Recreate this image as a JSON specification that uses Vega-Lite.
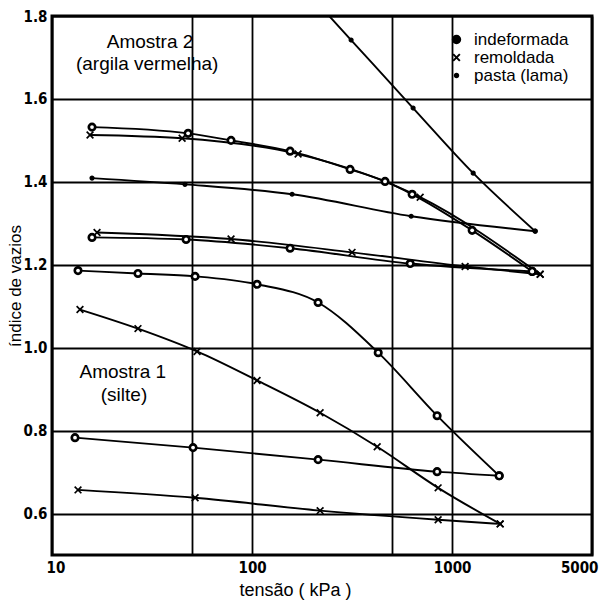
{
  "$schema": "https://vega.github.io/schema/vega-lite/v6.json",
  "width": 540,
  "height": 539,
  "autosize": {"type": "none"},
  "padding": {"left": 52, "top": 16, "right": 14, "bottom": 48},
  "background": "white",
  "config": {
    "view": {"stroke": "black", "strokeWidth": 3},
    "font": "Liberation Sans",
    "axis": {
      "grid": true, "gridColor": "black", "gridWidth": 1.8, "gridOpacity": 1,
      "domain": false, "ticks": false, "tickSize": 0,
      "labelFont": "Liberation Sans Narrow, DejaVu Sans Condensed, Liberation Sans, sans-serif",
      "labelFontWeight": "bold", "labelFontSize": 15, "labelColor": "black",
      "titleColor": "black", "titleFont": "Liberation Sans", "titleFontWeight": "normal"
    },
    "legend": {
      "title": null, "orient": "none", "legendX": 396, "legendY": 15, "padding": 0, "rowPadding": 0,
      "labelFontSize": 17, "labelFont": "Liberation Sans", "labelFontWeight": "normal", "labelColor": "black", "labelOffset": 9,
      "symbolStrokeWidth": 2
    }
  },
  "datasets": {
    "curvas": [
      {"curva": "A2 pasta inclinada", "tipo": "pasta (lama)", "tensao": 218.8, "e": 1.824},
      {"curva": "A2 pasta inclinada", "tipo": "pasta (lama)", "tensao": 312.6, "e": 1.742},
      {"curva": "A2 pasta inclinada", "tipo": "pasta (lama)", "tensao": 638, "e": 1.578},
      {"curva": "A2 pasta inclinada", "tipo": "pasta (lama)", "tensao": 1274, "e": 1.421},
      {"curva": "A2 pasta inclinada", "tipo": "pasta (lama)", "tensao": 2600, "e": 1.281},

      {"curva": "A2 pasta", "tipo": "pasta (lama)", "tensao": 15.85, "e": 1.409},
      {"curva": "A2 pasta", "tipo": "pasta (lama)", "tensao": 46.2, "e": 1.394},
      {"curva": "A2 pasta", "tipo": "pasta (lama)", "tensao": 158.5, "e": 1.370},
      {"curva": "A2 pasta", "tipo": "pasta (lama)", "tensao": 624, "e": 1.317},
      {"curva": "A2 pasta", "tipo": "pasta (lama)", "tensao": 2600, "e": 1.281},

      {"curva": "A2 indeformada 1", "tipo": "indeformada", "tensao": 15.85, "e": 1.532},
      {"curva": "A2 indeformada 1", "tipo": "indeformada", "tensao": 47.9, "e": 1.517},
      {"curva": "A2 indeformada 1", "tipo": "indeformada", "tensao": 78.5, "e": 1.500},
      {"curva": "A2 indeformada 1", "tipo": "indeformada", "tensao": 154.9, "e": 1.474},
      {"curva": "A2 indeformada 1", "tipo": "indeformada", "tensao": 309, "e": 1.430},
      {"curva": "A2 indeformada 1", "tipo": "indeformada", "tensao": 462, "e": 1.401},
      {"curva": "A2 indeformada 1", "tipo": "indeformada", "tensao": 631, "e": 1.370},
      {"curva": "A2 indeformada 1", "tipo": "indeformada", "tensao": 1259, "e": 1.283},
      {"curva": "A2 indeformada 1", "tipo": "indeformada", "tensao": 2512, "e": 1.184},

      {"curva": "A2 remoldada 1", "tipo": "remoldada", "tensao": 15.49, "e": 1.513},
      {"curva": "A2 remoldada 1", "tipo": "remoldada", "tensao": 44.7, "e": 1.505},
      {"curva": "A2 remoldada 1", "tipo": "remoldada", "tensao": 169.8, "e": 1.467},
      {"curva": "A2 remoldada 1", "tipo": "remoldada", "tensao": 692, "e": 1.363},
      {"curva": "A2 remoldada 1", "tipo": "remoldada", "tensao": 2754, "e": 1.177},

      {"curva": "A2 indeformada 2", "tipo": "indeformada", "tensao": 15.85, "e": 1.266},
      {"curva": "A2 indeformada 2", "tipo": "indeformada", "tensao": 46.8, "e": 1.261},
      {"curva": "A2 indeformada 2", "tipo": "indeformada", "tensao": 154.9, "e": 1.240},
      {"curva": "A2 indeformada 2", "tipo": "indeformada", "tensao": 617, "e": 1.203},
      {"curva": "A2 indeformada 2", "tipo": "indeformada", "tensao": 2512, "e": 1.184},

      {"curva": "A2 remoldada 2", "tipo": "remoldada", "tensao": 16.79, "e": 1.278},
      {"curva": "A2 remoldada 2", "tipo": "remoldada", "tensao": 78.5, "e": 1.262},
      {"curva": "A2 remoldada 2", "tipo": "remoldada", "tensao": 316, "e": 1.230},
      {"curva": "A2 remoldada 2", "tipo": "remoldada", "tensao": 1161, "e": 1.196},
      {"curva": "A2 remoldada 2", "tipo": "remoldada", "tensao": 2754, "e": 1.177},

      {"curva": "A1 indeformada 1", "tipo": "indeformada", "tensao": 13.49, "e": 1.186},
      {"curva": "A1 indeformada 1", "tipo": "indeformada", "tensao": 26.9, "e": 1.179},
      {"curva": "A1 indeformada 1", "tipo": "indeformada", "tensao": 51.9, "e": 1.172},
      {"curva": "A1 indeformada 1", "tipo": "indeformada", "tensao": 105.9, "e": 1.153},
      {"curva": "A1 indeformada 1", "tipo": "indeformada", "tensao": 213.8, "e": 1.109},
      {"curva": "A1 indeformada 1", "tipo": "indeformada", "tensao": 427, "e": 0.988},
      {"curva": "A1 indeformada 1", "tipo": "indeformada", "tensao": 841, "e": 0.836},
      {"curva": "A1 indeformada 1", "tipo": "indeformada", "tensao": 1718, "e": 0.691},

      {"curva": "A1 remoldada 1", "tipo": "remoldada", "tensao": 13.8, "e": 1.092},
      {"curva": "A1 remoldada 1", "tipo": "remoldada", "tensao": 26.9, "e": 1.046},
      {"curva": "A1 remoldada 1", "tipo": "remoldada", "tensao": 53.1, "e": 0.991},
      {"curva": "A1 remoldada 1", "tipo": "remoldada", "tensao": 105.9, "e": 0.921},
      {"curva": "A1 remoldada 1", "tipo": "remoldada", "tensao": 218.8, "e": 0.843},
      {"curva": "A1 remoldada 1", "tipo": "remoldada", "tensao": 422, "e": 0.761},
      {"curva": "A1 remoldada 1", "tipo": "remoldada", "tensao": 851, "e": 0.662},
      {"curva": "A1 remoldada 1", "tipo": "remoldada", "tensao": 1738, "e": 0.575},

      {"curva": "A1 indeformada 2", "tipo": "indeformada", "tensao": 13.03, "e": 0.783},
      {"curva": "A1 indeformada 2", "tipo": "indeformada", "tensao": 50.7, "e": 0.759},
      {"curva": "A1 indeformada 2", "tipo": "indeformada", "tensao": 213.8, "e": 0.730},
      {"curva": "A1 indeformada 2", "tipo": "indeformada", "tensao": 841, "e": 0.701},
      {"curva": "A1 indeformada 2", "tipo": "indeformada", "tensao": 1718, "e": 0.691},

      {"curva": "A1 remoldada 2", "tipo": "remoldada", "tensao": 13.49, "e": 0.657},
      {"curva": "A1 remoldada 2", "tipo": "remoldada", "tensao": 51.9, "e": 0.638},
      {"curva": "A1 remoldada 2", "tipo": "remoldada", "tensao": 218.8, "e": 0.607},
      {"curva": "A1 remoldada 2", "tipo": "remoldada", "tensao": 851, "e": 0.585},
      {"curva": "A1 remoldada 2", "tipo": "remoldada", "tensao": 1738, "e": 0.575}
    ],
    "rotulos": [
      {"texto": "Amostra 2", "tensao": 30.9, "e": 1.737},
      {"texto": "(argila vermelha)", "tensao": 29.9, "e": 1.684},
      {"texto": "Amostra 1", "tensao": 22.6, "e": 0.942},
      {"texto": "(silte)", "tensao": 22.9, "e": 0.885}
    ]
  },
  "encoding": {
    "x": {
      "field": "tensao", "type": "quantitative",
      "scale": {"type": "log", "domain": [10, 5000], "nice": false},
      "axis": {
        "values": [10, 50, 100, 500, 1000, 5000],
        "format": "d",
        "labelExpr": "datum.value == 50 || datum.value == 500 ? '' : datum.label",
        "labelFlush": true, "labelFlushOffset": 6, "labelOverlap": false, "labelPadding": 5,
        "title": "tensão ( kPa )", "titleFontSize": 18, "titleX": 243, "titlePadding": 6
      }
    },
    "y": {
      "field": "e", "type": "quantitative",
      "scale": {"domain": [0.5, 1.8], "nice": false, "zero": false},
      "axis": {
        "values": [0.6, 0.8, 1.0, 1.2, 1.4, 1.6, 1.8],
        "format": ".1f", "labelPadding": 5, "labelOverlap": false,
        "title": "índice de vazios", "titleFontSize": 17, "titlePadding": -1
      }
    }
  },
  "layer": [
    {
      "data": {"name": "curvas"},
      "mark": {"type": "line", "color": "black", "strokeWidth": 1.9, "interpolate": "monotone", "clip": true},
      "encoding": {"detail": {"field": "curva"}}
    },
    {
      "data": {"name": "curvas"},
      "mark": {"type": "point", "filled": true, "strokeWidth": 1.7, "opacity": 1, "clip": true},
      "encoding": {
        "shape": {
          "field": "tipo", "type": "nominal",
          "scale": {"domain": ["indeformada", "remoldada", "pasta (lama)"], "range": ["circle", "M-1,-1L1,1M-1,1L1,-1", "circle"]}
        },
        "size": {
          "field": "tipo", "type": "nominal",
          "scale": {"type": "ordinal", "domain": ["indeformada", "remoldada", "pasta (lama)"], "range": [55, 45, 12]}
        },
        "fill": {
          "field": "tipo", "type": "nominal",
          "scale": {"domain": ["indeformada", "remoldada", "pasta (lama)"], "range": ["black", "black", "black"]}
        },
        "stroke": {
          "field": "tipo", "type": "nominal",
          "scale": {"domain": ["indeformada", "remoldada", "pasta (lama)"], "range": ["black", "black", "black"]}
        }
      }
    },
    {
      "data": {"name": "curvas"},
      "transform": [{"filter": "datum.tipo == 'indeformada'"}],
      "mark": {"type": "point", "filled": true, "color": "white", "shape": "circle", "size": 14, "opacity": 1, "clip": true}
    },
    {
      "data": {"name": "rotulos"},
      "mark": {"type": "text", "font": "Liberation Sans", "fontSize": 19, "color": "black", "align": "center", "baseline": "middle"},
      "encoding": {"text": {"field": "texto"}}
    }
  ]
}
